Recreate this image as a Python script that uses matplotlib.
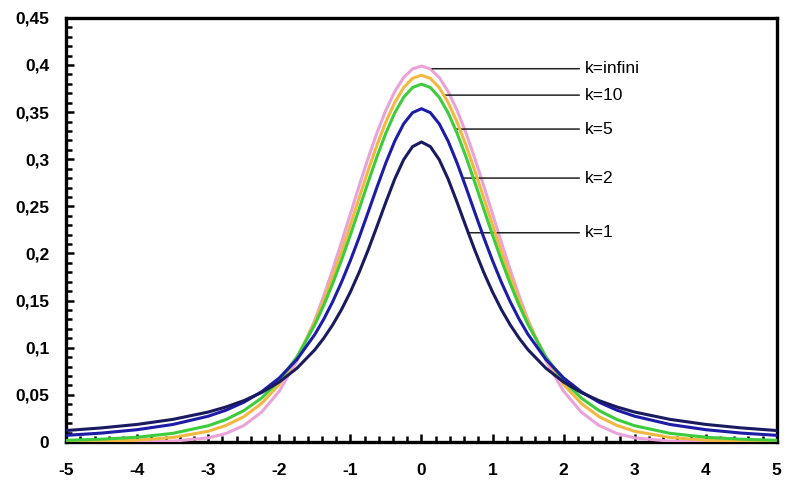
import matplotlib
matplotlib.use('Agg')
import matplotlib.pyplot as plt
from matplotlib.ticker import MultipleLocator

plt.rcParams['font.family'] = ['Liberation Sans', 'DejaVu Sans']

x = [-5, -4.5, -4, -3.5, -3, -2.75, -2.5, -2.25, -2, -1.75, -1.5, -1.375, -1.25, -1.125,
     -1, -0.875, -0.75, -0.625, -0.5, -0.375, -0.25, -0.125,
     0,
     0.125, 0.25, 0.375, 0.5, 0.625, 0.75, 0.875, 1,
     1.125, 1.25, 1.375, 1.5, 1.75, 2, 2.25, 2.5, 2.75, 3, 3.5, 4, 4.5, 5]

# density values, one list per k
y_k1 = [0.0122, 0.0150, 0.0187, 0.0240, 0.0318, 0.0372, 0.0439, 0.0525, 0.0637, 0.0784, 0.0979,
        0.1101, 0.1242, 0.1405, 0.1592, 0.1803, 0.2037, 0.2289, 0.2546, 0.2791, 0.2996, 0.3134,
        0.3183,
        0.3134, 0.2996, 0.2791, 0.2546, 0.2289, 0.2037, 0.1803, 0.1592, 0.1405, 0.1242, 0.1101,
        0.0979, 0.0784, 0.0637, 0.0525, 0.0439, 0.0372, 0.0318, 0.0240, 0.0187, 0.0150, 0.0122]
y_k2 = [0.0071, 0.0095, 0.0131, 0.0186, 0.0274, 0.0338, 0.0422, 0.0533, 0.0680, 0.0878, 0.1141,
        0.1303, 0.1487, 0.1695, 0.1925, 0.2174, 0.2438, 0.2705, 0.2963, 0.3193, 0.3376, 0.3494,
        0.3536,
        0.3494, 0.3376, 0.3193, 0.2963, 0.2705, 0.2438, 0.2174, 0.1925, 0.1695, 0.1487, 0.1303,
        0.1141, 0.0878, 0.0680, 0.0533, 0.0422, 0.0338, 0.0274, 0.0186, 0.0131, 0.0095, 0.0071]
y_k5 = [0.0018, 0.0030, 0.0051, 0.0092, 0.0173, 0.0239, 0.0333, 0.0466, 0.0651, 0.0905, 0.1245,
        0.1450, 0.1679, 0.1929, 0.2197, 0.2476, 0.2757, 0.3029, 0.3279, 0.3493, 0.3657, 0.3761,
        0.3796,
        0.3761, 0.3657, 0.3493, 0.3279, 0.3029, 0.2757, 0.2476, 0.2197, 0.1929, 0.1679, 0.1450,
        0.1245, 0.0905, 0.0651, 0.0466, 0.0333, 0.0239, 0.0173, 0.0092, 0.0051, 0.0030, 0.0018]
y_k10 = [0.0004, 0.0009, 0.0020, 0.0048, 0.0114, 0.0176, 0.0269, 0.0409, 0.0611, 0.0895, 0.1274,
         0.1501, 0.1751, 0.2020, 0.2304, 0.2593, 0.2880, 0.3152, 0.3397, 0.3603, 0.3760, 0.3858,
         0.3891,
         0.3858, 0.3760, 0.3603, 0.3397, 0.3152, 0.2880, 0.2593, 0.2304, 0.2020, 0.1751, 0.1501,
         0.1274, 0.0895, 0.0611, 0.0409, 0.0269, 0.0176, 0.0114, 0.0048, 0.0020, 0.0009, 0.0004]
y_kinf = [0.0000, 0.0000, 0.0001, 0.0009, 0.0044, 0.0091, 0.0175, 0.0317, 0.0540, 0.0863, 0.1295,
          0.1550, 0.1826, 0.2119, 0.2420, 0.2721, 0.3011, 0.3282, 0.3521, 0.3719, 0.3867, 0.3958,
          0.3989,
          0.3958, 0.3867, 0.3719, 0.3521, 0.3282, 0.3011, 0.2721, 0.2420, 0.2119, 0.1826, 0.1550,
          0.1295, 0.0863, 0.0540, 0.0317, 0.0175, 0.0091, 0.0044, 0.0009, 0.0001, 0.0000, 0.0000]

labels = ['k=infini', 'k=10', 'k=5', 'k=2', 'k=1']
label_y = [0.396, 0.368, 0.332, 0.280, 0.222]     # height of each leader line
label_xstart = [0.15, 0.33, 0.485, 0.58, 0.65]    # where the leader line touches the curve

xtick_labels = ['-5', '-4', '-3', '-2', '-1', '0', '1', '2', '3', '4', '5']
ytick_labels = ['0', '0,05', '0,1', '0,15', '0,2', '0,25', '0,3', '0,35', '0,4', '0,45']

fig = plt.figure(figsize=(7.87, 4.95), dpi=100)
ax = fig.add_axes([0.084, 0.107, 0.903, 0.857])

ax.plot(x, y_kinf, color='#eaa2d8', lw=2.2, zorder=3)
ax.plot(x, y_k10, color='#f2b840', lw=2.2, zorder=4)
ax.plot(x, y_k5, color='#3ccc3c', lw=2.2, zorder=5)
ax.plot(x, y_k2, color='#1c1ca8', lw=2.2, zorder=6)
ax.plot(x, y_k1, color='#1a1a60', lw=2.2, zorder=7)

for lab, ly, lx in zip(labels, label_y, label_xstart):
    ax.annotate(lab, xy=(lx, ly), xytext=(2.3, ly), fontsize=12.5, va='center', ha='left',
                arrowprops=dict(arrowstyle='-', color='#222222', lw=1.1,
                                shrinkA=2, shrinkB=0))

ax.set_xlim(-5, 5)
ax.set_ylim(0, 0.45)
ax.set_xticks(range(-5, 6))
ax.set_xticklabels(xtick_labels)
ax.set_yticks([i * 0.05 for i in range(10)])
ax.set_yticklabels(ytick_labels)
ax.xaxis.set_minor_locator(MultipleLocator(0.2))
ax.yaxis.set_minor_locator(MultipleLocator(0.01))

ax.tick_params(which='both', direction='in', width=1.8, labelsize=12.5)
ax.tick_params(which='major', length=6)
ax.tick_params(which='minor', length=4)
ax.tick_params(axis='y', pad=12)
ax.tick_params(axis='x', pad=15)
for t in ax.get_xticklabels() + ax.get_yticklabels():
    t.set_fontweight('bold')
for sp in ax.spines.values():
    sp.set_linewidth(2.4)

fig.savefig('out.png', dpi=100)
